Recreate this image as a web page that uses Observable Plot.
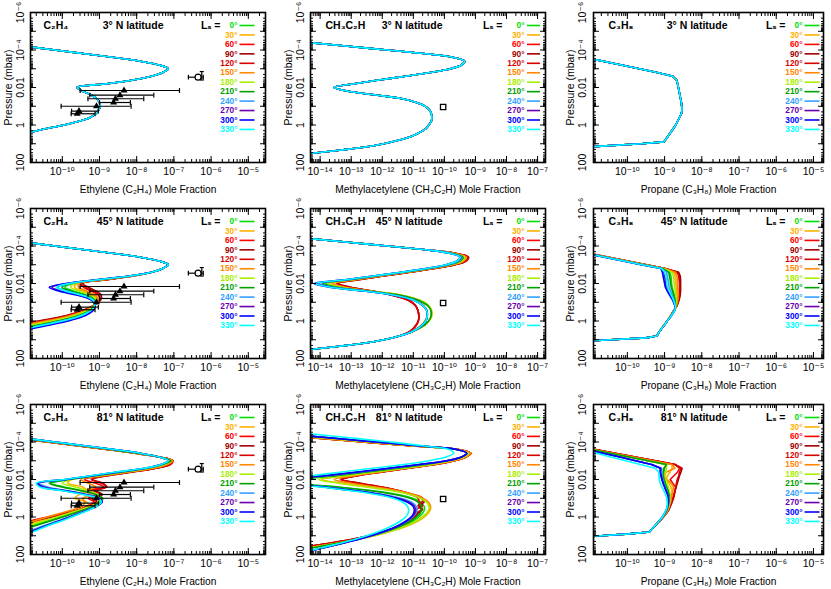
<!DOCTYPE html>
<html><head><meta charset="utf-8">
<script src="https://cdn.jsdelivr.net/npm/d3@7"></script>
<script src="https://cdn.jsdelivr.net/npm/@observablehq/plot@0.6"></script>
<style>
body{margin:0;background:#fff}
#wrap{position:relative;width:831px;height:589px;background:#fff}
.cell{position:absolute}
</style></head>
<body><div id="wrap"></div>
<script>
// ---------- categories ----------
const LS = [0, 30, 60, 90, 120, 150, 180, 210, 240, 270, 300, 330];
const LS_COLORS = ["#00dd00","#ffb000","#ff0000","#a00000","#d80000","#ff8800","#aaee00","#00a000","#33a0ff","#6a00b0","#0000ff","#00ffff"];
const LATITUDES = ["3° N latitude", "45° N latitude", "81° N latitude"];

// ---------- tick labels ----------
const X_TICKS_A = [1e-10, 1e-9, 1e-8, 1e-7, 1e-6, 1e-5];
const X_LABELS_A = ["10⁻¹⁰","10⁻⁹","10⁻⁸","10⁻⁷","10⁻⁶","10⁻⁵"];
const X_TICKS_B = [1e-14, 1e-13, 1e-12, 1e-11, 1e-10, 1e-9, 1e-8, 1e-7];
const X_LABELS_B = ["10⁻¹⁴","10⁻¹³","10⁻¹²","10⁻¹¹","10⁻¹⁰","10⁻⁹","10⁻⁸","10⁻⁷"];
const Y_TICKS = [1e-6, 1e-4, 1e-2, 1, 100];
const Y_LABELS = ["10⁻⁶","10⁻⁴","0.01","1","100"];
const Y_DECADES = [1e-6,1e-5,1e-4,1e-3,1e-2,1e-1,1,10,100];

// ---------- pressure grids (log10 mbar) ----------
const LOGP_C2H4 = [-4.6,-4.4,-4.2,-4.0,-3.8,-3.6,-3.4,-3.2,-3.0,-2.8,-2.6,-2.4,-2.2,-2.0,-1.8,-1.6,-1.4,-1.2,-1.0,-0.8,-0.6,-0.4,-0.2,0.0,0.2,0.4,0.6,0.8,1.0];
const LOGP_CH3C2H = [-4.6,-4.4,-4.2,-4.0,-3.8,-3.6,-3.4,-3.2,-3.0,-2.8,-2.6,-2.4,-2.2,-2.0,-1.8,-1.6,-1.4,-1.2,-1.0,-0.8,-0.6,-0.4,-0.2,0.0,0.2,0.4,0.6,0.8,1.0,1.2,1.4,1.6,1.8];
const LOGP_C3H8 = [-4.0,-3.6,-3.2,-3.0,-2.8,-2.6,-2.4,-2.2,-2.0,-1.8,-1.6,-1.4,-1.2,-1.0,-0.8,-0.6,-0.4,-0.2,0.0,0.2,0.4,0.6,0.8,0.9,1.0,1.2];

// ---------- C2H4 mole fractions (log10) ----------
const C2H4_3N = [-12.6,-11.8,-11.0,-10.2,-9.4,-8.6,-7.9,-7.4,-7.15,-7.3,-7.6,-8.1,-8.8,-9.6,-9.45,-9.22,-9.07,-9.0,-8.98,-9.02,-9.1,-9.25,-9.55,-9.95,-10.45,-10.88,-11.35,-11.9,-12.5];
const C2H4_45N_TOP = [-12.6,-11.8,-11.0,-10.2,-9.4,-8.6,-7.9,-7.4,-7.15,-7.3,-7.6];
const C2H4_45N_LOW = [
  [-8.16,-8.98,-9.72,-9.93,-9.7,-9.37,-9.16,-9.1,-9.14,-9.25,-9.45,-9.74,-10.17,-10.66,-11.16,-11.66,-12.22,-12.78],
  [-8.14,-8.91,-9.61,-9.67,-9.45,-9.2,-9.07,-9.07,-9.16,-9.31,-9.55,-9.89,-10.37,-10.89,-11.39,-11.89,-12.42,-12.96],
  [-8.11,-8.84,-9.5,-9.43,-9.22,-9.04,-8.99,-9.04,-9.17,-9.37,-9.65,-10.03,-10.55,-11.09,-11.59,-12.09,-12.6,-13.12],
  [-8.1,-8.8,-9.45,-9.3,-9.1,-8.96,-8.95,-9.02,-9.18,-9.4,-9.7,-10.1,-10.65,-11.2,-11.7,-12.2,-12.7,-13.2],
  [-8.11,-8.82,-9.49,-9.38,-9.18,-9.02,-8.98,-9.03,-9.18,-9.38,-9.67,-10.05,-10.59,-11.13,-11.63,-12.13,-12.64,-13.14],
  [-8.13,-8.88,-9.56,-9.56,-9.35,-9.13,-9.04,-9.05,-9.17,-9.34,-9.6,-9.95,-10.45,-10.98,-11.48,-11.98,-12.5,-13.03],
  [-8.15,-8.94,-9.65,-9.77,-9.55,-9.27,-9.11,-9.08,-9.15,-9.29,-9.51,-9.83,-10.29,-10.8,-11.3,-11.8,-12.34,-12.89],
  [-8.17,-9.0,-9.76,-10.01,-9.78,-9.43,-9.19,-9.11,-9.14,-9.23,-9.41,-9.69,-10.11,-10.59,-11.09,-11.59,-12.16,-12.72],
  [-8.18,-9.03,-9.8,-10.12,-9.88,-9.5,-9.22,-9.12,-9.13,-9.2,-9.37,-9.63,-10.03,-10.5,-11.0,-11.5,-12.08,-12.65],
  [-8.19,-9.08,-9.87,-10.28,-10.03,-9.6,-9.28,-9.14,-9.12,-9.17,-9.31,-9.54,-9.91,-10.36,-10.86,-11.36,-11.96,-12.55],
  [-8.2,-9.1,-9.9,-10.35,-10.1,-9.65,-9.3,-9.15,-9.12,-9.15,-9.28,-9.5,-9.85,-10.3,-10.8,-11.3,-11.9,-12.5],
  [-8.18,-9.05,-9.82,-10.16,-9.92,-9.53,-9.24,-9.13,-9.13,-9.2,-9.36,-9.61,-9.99,-10.46,-10.96,-11.46,-12.04,-12.63]
];
const C2H4_81N_TOP_RED = [-12.8,-12.0,-11.2,-10.4,-9.6,-8.8,-8.05,-7.4,-7.03];
const C2H4_81N_TOP_YG = [-12.7,-11.9,-11.1,-10.3,-9.5,-8.7,-7.97,-7.4,-7.08];
const C2H4_81N_TOP_BLUE = [-12.6,-11.8,-11.0,-10.2,-9.4,-8.6,-7.9,-7.4,-7.15];
const C2H4_81N_LOW = [
  [-7.28,-7.7,-8.37,-9.05,-9.8,-10.3,-9.95,-9.45,-9.08,-8.92,-8.97,-9.15,-9.42,-9.73,-10.05,-10.38,-10.72,-11.05,-11.4,-11.8],
  [-7.22,-7.6,-8.25,-8.95,-9.75,-9.85,-9.45,-9.35,-9.55,-9.65,-9.35,-9.3,-9.55,-9.9,-10.25,-10.6,-10.95,-11.3,-11.65,-12.0],
  [-7.12,-7.5,-8.15,-8.85,-9.4,-9.1,-8.88,-9.3,-9.05,-9.3,-9.15,-9.3,-9.55,-9.95,-10.4,-10.85,-11.3,-11.75,-12.2,-12.65],
  [-7.1,-7.48,-8.1,-8.78,-9.2,-8.9,-8.82,-9.1,-8.92,-9.1,-9.08,-9.22,-9.48,-9.88,-10.3,-10.75,-11.2,-11.65,-12.1,-12.55],
  [-7.1,-7.48,-8.12,-8.8,-9.22,-8.95,-8.8,-9.15,-8.95,-9.2,-9.1,-9.25,-9.5,-9.9,-10.35,-10.8,-11.25,-11.7,-12.15,-12.6],
  [-7.18,-7.55,-8.2,-8.9,-9.5,-9.3,-9.1,-9.4,-9.2,-9.45,-9.4,-9.45,-9.7,-10.05,-10.4,-10.75,-11.1,-11.45,-11.8,-12.15],
  [-7.25,-7.65,-8.3,-9.0,-9.75,-10.0,-9.65,-9.3,-9.05,-8.95,-9.02,-9.22,-9.5,-9.82,-10.15,-10.48,-10.8,-11.15,-11.5,-11.9],
  [-7.3,-7.72,-8.4,-9.1,-9.85,-10.35,-10.0,-9.5,-9.1,-8.92,-8.95,-9.12,-9.38,-9.68,-9.98,-10.3,-10.62,-10.95,-11.3,-11.7],
  [-7.33,-7.76,-8.47,-9.17,-9.9,-10.62,-10.4,-9.85,-9.33,-9.0,-8.93,-9.07,-9.3,-9.56,-9.83,-10.1,-10.4,-10.68,-10.95,-11.25],
  [-7.35,-7.78,-8.5,-9.2,-9.92,-10.65,-10.5,-9.9,-9.38,-9.02,-8.94,-9.06,-9.28,-9.54,-9.8,-10.07,-10.35,-10.62,-10.88,-11.18],
  [-7.35,-7.78,-8.5,-9.2,-9.9,-10.65,-10.55,-9.95,-9.4,-9.02,-8.93,-9.05,-9.27,-9.52,-9.78,-10.05,-10.33,-10.6,-10.85,-11.15],
  [-7.35,-7.8,-8.55,-9.25,-9.95,-10.7,-10.6,-10.0,-9.45,-9.05,-8.95,-9.05,-9.25,-9.5,-9.75,-10.0,-10.3,-10.55,-10.8,-11.1]
];

// ---------- CH3C2H mole fractions (log10) ----------
const CH3C2H_3N = [-15.6,-14.35,-13.1,-11.85,-10.6,-9.7,-9.35,-9.45,-9.8,-10.45,-11.25,-12.1,-12.9,-13.55,-13.1,-12.2,-11.35,-10.9,-10.62,-10.48,-10.42,-10.4,-10.42,-10.5,-10.6,-10.8,-11.05,-11.45,-11.95,-12.65,-13.66,-14.8,-16.0];
const CH3C2H_45N_TOP = [-15.6,-14.35,-13.1,-11.85,-10.6];
const CH3C2H_45N_TAIL = [-11.95,-12.65,-13.66,-14.8,-16.0];
const CH3C2H_45N_MID = [
  [-9.71,-9.37,-9.47,-9.82,-10.47,-11.27,-12.14,-13.0,-13.84,-13.39,-12.47],
  [-9.67,-9.32,-9.41,-9.76,-10.41,-11.21,-12.07,-12.91,-13.68,-13.25,-12.41],
  [-9.62,-9.25,-9.33,-9.68,-10.33,-11.13,-11.99,-12.8,-13.48,-13.07,-12.33],
  [-9.6,-9.22,-9.3,-9.65,-10.3,-11.1,-11.95,-12.75,-13.4,-13.0,-12.3],
  [-9.61,-9.23,-9.32,-9.67,-10.32,-11.12,-11.97,-12.77,-13.44,-13.04,-12.32],
  [-9.65,-9.29,-9.38,-9.73,-10.38,-11.18,-12.04,-12.86,-13.6,-13.18,-12.38],
  [-9.69,-9.35,-9.44,-9.79,-10.44,-11.24,-12.11,-12.95,-13.76,-13.32,-12.44],
  [-9.73,-9.4,-9.5,-9.85,-10.5,-11.3,-12.18,-13.04,-13.92,-13.46,-12.5],
  [-9.76,-9.44,-9.54,-9.89,-10.54,-11.34,-12.23,-13.11,-14.04,-13.56,-12.54],
  [-9.78,-9.47,-9.57,-9.92,-10.57,-11.37,-12.27,-13.16,-14.12,-13.63,-12.57],
  [-9.8,-9.5,-9.6,-9.95,-10.6,-11.4,-12.3,-13.2,-14.2,-13.7,-12.6],
  [-9.79,-9.49,-9.59,-9.94,-10.59,-11.39,-12.28,-13.18,-14.16,-13.67,-12.59]
];
const CH3C2H_45N_LOBE_RED = [-11.75,-11.3,-11.05,-10.92,-10.86,-10.83,-10.82,-10.84,-10.9,-11.0,-11.15,-11.45];
const CH3C2H_45N_LOBE_ORANGE = [-11.6,-11.1,-10.8,-10.65,-10.57,-10.55,-10.57,-10.63,-10.73,-10.9,-11.1,-11.45];
const CH3C2H_45N_LOBE_YELLOW = [-11.45,-10.95,-10.65,-10.5,-10.42,-10.4,-10.42,-10.5,-10.62,-10.82,-11.07,-11.45];
const CH3C2H_45N_LOBE_GREEN = [-11.5,-11.0,-10.7,-10.52,-10.44,-10.42,-10.44,-10.51,-10.63,-10.83,-11.08,-11.45];
const CH3C2H_45N_LOBE_BLUE = [-11.7,-11.15,-10.85,-10.68,-10.58,-10.55,-10.56,-10.6,-10.7,-10.86,-11.08,-11.45];
const CH3C2H_81N_TOP_RED = [-17.0,-15.55,-14.08,-12.6,-11.1,-9.55,-9.15,-9.3,-9.68];
const CH3C2H_81N_TOP_YG = [-16.6,-15.2,-13.8,-12.4,-11.0,-9.6,-9.22,-9.38,-9.8];
const CH3C2H_81N_TOP_BLUE = [-16.2,-14.9,-13.55,-12.2,-10.85,-9.6,-9.28,-9.45,-9.92];
const CH3C2H_81N_TOP_CYAN = [-15.3,-14.1,-12.9,-11.75,-10.7,-9.85,-9.7,-9.95,-10.5];
const CH3C2H_81N_LOW = [
  [-10.55,-11.45,-12.4,-13.35,-14.35,-14.4,-13.4,-12.3,-11.5,-11.02,-10.78,-10.66,-10.64,-10.7,-10.82,-11.0,-11.23,-11.53,-11.9,-12.33,-12.85,-13.45,-14.15,-14.85],
  [-10.38,-11.27,-12.17,-13.05,-13.95,-13.3,-12.4,-11.6,-11.05,-10.72,-10.53,-10.45,-10.45,-10.52,-10.65,-10.83,-11.08,-11.4,-11.8,-12.25,-12.8,-13.45,-14.2,-14.95],
  [-10.33,-11.18,-12.03,-12.83,-13.35,-12.8,-12.1,-11.5,-11.1,-10.85,-10.8,-10.7,-10.9,-10.88,-11.0,-11.13,-11.37,-11.66,-12.0,-12.45,-13.0,-13.7,-14.5,-15.3],
  [-10.3,-11.15,-12.0,-12.8,-13.3,-12.7,-12.0,-11.45,-11.05,-10.75,-10.65,-10.8,-10.7,-10.85,-10.95,-11.1,-11.35,-11.65,-12.0,-12.45,-13.0,-13.7,-14.5,-15.3],
  [-10.3,-11.15,-12.0,-12.8,-13.28,-12.75,-12.05,-11.45,-11.0,-10.7,-10.72,-10.85,-10.75,-10.9,-10.98,-11.12,-11.36,-11.65,-12.0,-12.45,-13.0,-13.7,-14.5,-15.3],
  [-10.33,-11.2,-12.07,-12.9,-13.55,-13.0,-12.2,-11.5,-11.0,-10.7,-10.52,-10.46,-10.48,-10.57,-10.7,-10.88,-11.12,-11.45,-11.85,-12.3,-12.85,-13.5,-14.25,-15.0],
  [-10.43,-11.33,-12.25,-13.15,-14.05,-13.4,-12.5,-11.7,-11.12,-10.78,-10.58,-10.5,-10.5,-10.57,-10.7,-10.88,-11.12,-11.43,-11.82,-12.27,-12.8,-13.45,-14.2,-14.95],
  [-10.62,-11.52,-12.5,-13.5,-14.5,-14.5,-13.5,-12.4,-11.6,-11.1,-10.85,-10.75,-10.73,-10.78,-10.9,-11.07,-11.3,-11.58,-11.93,-12.35,-12.85,-13.43,-14.1,-14.8],
  [-10.78,-11.72,-12.7,-13.75,-14.8,-14.7,-13.8,-12.75,-11.95,-11.4,-11.07,-10.92,-10.88,-10.92,-11.02,-11.18,-11.4,-11.65,-11.97,-12.35,-12.78,-13.28,-13.8,-14.35],
  [-10.8,-11.78,-12.78,-13.85,-14.95,-14.8,-13.9,-12.85,-12.05,-11.5,-11.15,-10.98,-10.93,-10.95,-11.05,-11.2,-11.4,-11.65,-11.98,-12.35,-12.78,-13.27,-13.78,-14.3],
  [-10.8,-11.8,-12.8,-13.9,-15.0,-14.8,-13.9,-12.9,-12.1,-11.55,-11.2,-11.02,-10.97,-10.99,-11.07,-11.22,-11.42,-11.67,-12.0,-12.38,-12.8,-13.27,-13.77,-14.27],
  [-11.3,-12.3,-13.3,-14.3,-15.3,-15.0,-14.0,-13.0,-12.2,-11.65,-11.35,-11.2,-11.15,-11.17,-11.25,-11.4,-11.6,-11.85,-12.15,-12.5,-12.9,-13.35,-13.85,-14.3]
];

// ---------- C3H8 mole fractions (log10) ----------
const C3H8_3N = [-12.1,-11.13,-10.16,-9.68,-9.2,-8.78,-8.68,-8.65,-8.63,-8.61,-8.59,-8.57,-8.55,-8.54,-8.53,-8.55,-8.6,-8.65,-8.7,-8.77,-8.84,-8.91,-8.98,-9.02,-9.63,-11.3];
const C3H8_45N_TAIL = [-8.93,-9.0,-9.08,-9.15,-9.21,-9.5,-10.45,-12.3];
const C3H8_45N_HEAD = [
  [-12.07,-11.06,-10.06,-9.56,-9.05,-8.86,-8.83,-8.82,-8.81,-8.8,-8.77,-8.74,-8.72,-8.7,-8.7,-8.73,-8.79,-8.85],
  [-12.05,-11.04,-10.03,-9.53,-9.02,-8.75,-8.72,-8.71,-8.7,-8.69,-8.68,-8.67,-8.66,-8.67,-8.69,-8.73,-8.79,-8.86],
  [-12.03,-11.01,-10.0,-9.49,-8.99,-8.64,-8.6,-8.59,-8.59,-8.59,-8.59,-8.59,-8.61,-8.64,-8.67,-8.74,-8.8,-8.86],
  [-12.03,-11.01,-9.99,-9.48,-8.98,-8.62,-8.58,-8.57,-8.57,-8.57,-8.57,-8.58,-8.6,-8.63,-8.67,-8.74,-8.8,-8.86],
  [-12.04,-11.02,-10.0,-9.49,-8.99,-8.66,-8.62,-8.61,-8.6,-8.6,-8.6,-8.6,-8.62,-8.64,-8.67,-8.74,-8.8,-8.86],
  [-12.04,-11.03,-10.02,-9.51,-9.0,-8.71,-8.67,-8.66,-8.66,-8.65,-8.64,-8.64,-8.64,-8.66,-8.68,-8.74,-8.8,-8.86],
  [-12.06,-11.05,-10.04,-9.54,-9.03,-8.8,-8.76,-8.75,-8.74,-8.73,-8.71,-8.7,-8.68,-8.68,-8.69,-8.73,-8.79,-8.86],
  [-12.07,-11.07,-10.07,-9.57,-9.05,-8.89,-8.87,-8.85,-8.84,-8.82,-8.79,-8.76,-8.73,-8.71,-8.7,-8.73,-8.79,-8.85],
  [-12.08,-11.08,-10.09,-9.59,-9.07,-8.95,-8.93,-8.91,-8.89,-8.88,-8.84,-8.8,-8.76,-8.73,-8.71,-8.73,-8.79,-8.85],
  [-12.09,-11.09,-10.11,-9.62,-9.09,-9.02,-9.0,-8.98,-8.97,-8.95,-8.9,-8.85,-8.79,-8.75,-8.72,-8.72,-8.78,-8.85],
  [-12.1,-11.1,-10.12,-9.63,-9.1,-9.06,-9.04,-9.02,-9.0,-8.98,-8.93,-8.87,-8.81,-8.76,-8.72,-8.72,-8.78,-8.85],
  [-12.09,-11.09,-10.1,-9.61,-9.08,-9.0,-8.97,-8.95,-8.94,-8.92,-8.88,-8.83,-8.78,-8.74,-8.71,-8.72,-8.78,-8.85]
];
const C3H8_81N_TOP_RED = [-11.92,-10.86,-9.79,-9.25,-8.72];
const C3H8_81N_TOP_OY = [-11.95,-10.9,-9.85,-9.32,-8.8];
const C3H8_81N_TOP_G = [-11.97,-10.95,-9.95,-9.45,-8.95];
const C3H8_81N_TOP_B = [-11.98,-11.1,-10.2,-9.78,-9.35];
const C3H8_81N_TOP_C = [-12.0,-11.22,-10.44,-10.05,-9.65];
const C3H8_81N_LOW = [
  [-9.0,-9.02,-9.02,-9.0,-8.97,-8.93,-8.9,-8.87,-8.86,-8.87,-8.89,-8.93,-8.98,-9.05,-9.14,-9.23,-9.32,-9.41,-9.95,-10.7,-12.0],
  [-8.8,-8.85,-8.92,-8.95,-8.88,-8.83,-8.8,-8.8,-8.82,-8.84,-8.87,-8.91,-8.97,-9.04,-9.13,-9.22,-9.32,-9.41,-9.95,-10.7,-12.0],
  [-8.6,-8.65,-8.75,-8.85,-8.78,-8.7,-8.72,-8.75,-8.78,-8.81,-8.85,-8.89,-8.96,-9.04,-9.13,-9.22,-9.32,-9.41,-9.95,-10.7,-12.0],
  [-8.53,-8.56,-8.6,-8.63,-8.66,-8.69,-8.72,-8.74,-8.76,-8.8,-8.84,-8.88,-8.95,-9.03,-9.12,-9.22,-9.32,-9.41,-9.95,-10.7,-12.0],
  [-8.56,-8.6,-8.62,-8.66,-8.68,-8.7,-8.72,-8.74,-8.77,-8.8,-8.84,-8.89,-8.95,-9.03,-9.12,-9.22,-9.32,-9.41,-9.95,-10.7,-12.0],
  [-8.72,-8.95,-9.05,-8.95,-8.82,-8.76,-8.78,-8.8,-8.82,-8.84,-8.87,-8.9,-8.96,-9.04,-9.13,-9.22,-9.32,-9.41,-9.95,-10.7,-12.0],
  [-8.95,-8.97,-8.98,-8.96,-8.93,-8.9,-8.87,-8.85,-8.85,-8.86,-8.88,-8.92,-8.97,-9.05,-9.13,-9.23,-9.32,-9.41,-9.95,-10.7,-12.0],
  [-9.02,-9.04,-9.04,-9.02,-8.99,-8.95,-8.91,-8.88,-8.87,-8.88,-8.9,-8.93,-8.98,-9.05,-9.14,-9.23,-9.32,-9.41,-9.95,-10.7,-12.0],
  [-9.08,-9.08,-9.07,-9.05,-9.02,-8.98,-8.94,-8.91,-8.89,-8.89,-8.91,-8.94,-8.99,-9.06,-9.14,-9.23,-9.32,-9.41,-9.95,-10.7,-12.0],
  [-9.1,-9.11,-9.09,-9.07,-9.04,-9.0,-8.96,-8.92,-8.9,-8.9,-8.92,-8.94,-8.99,-9.06,-9.14,-9.23,-9.32,-9.41,-9.95,-10.7,-12.0],
  [-9.12,-9.12,-9.1,-9.07,-9.04,-9.0,-8.96,-8.92,-8.9,-8.9,-8.92,-8.95,-9.0,-9.06,-9.14,-9.23,-9.32,-9.41,-9.95,-10.7,-12.0],
  [-9.25,-9.16,-9.15,-9.14,-9.12,-9.07,-9.02,-8.97,-8.94,-8.93,-8.93,-8.95,-9.0,-9.06,-9.14,-9.23,-9.32,-9.41,-9.95,-10.7,-12.0]
];

// ---------- observations (log10) ----------
const OBS_C2H4_X = [-8.34,-8.45,-8.57,-8.62,-9.08,-9.55,-9.6];
const OBS_C2H4_P = [-1.84,-1.59,-1.4,-1.2,-1.0,-0.74,-0.6];
const OBS_C2H4_LO = [-9.52,-9.26,-9.31,-9.0,-10.03,-9.75,-9.76];
const OBS_C2H4_HI = [-6.85,-7.54,-7.81,-8.17,-8.15,-9.03,-9.12];
const OBS_C2H4_CIRCLE = {x: -6.35, p: -2.55, lo: -6.61, hi: -6.21};
const OBS_C2H4_VBAR = {x: -6.25, p1: -2.85, p2: -2.4};
const OBS_CH3C2H_SQUARE = {x: -10.04, p: -0.96};

// ---------- assemble series ----------
const same = (profile) => LS.map(() => profile);
const C2H4_45N = C2H4_45N_LOW.map(low => [...C2H4_45N_TOP, ...low]);
const C2H4_81N_TOPS = [C2H4_81N_TOP_YG, C2H4_81N_TOP_YG, C2H4_81N_TOP_RED, C2H4_81N_TOP_RED, C2H4_81N_TOP_RED, C2H4_81N_TOP_RED, C2H4_81N_TOP_YG, C2H4_81N_TOP_YG, C2H4_81N_TOP_BLUE, C2H4_81N_TOP_BLUE, C2H4_81N_TOP_BLUE, C2H4_81N_TOP_BLUE];
const C2H4_81N = C2H4_81N_LOW.map((low, i) => [...C2H4_81N_TOPS[i], ...low]);
const CH3C2H_45N_LOBES = [CH3C2H_45N_LOBE_GREEN, CH3C2H_45N_LOBE_YELLOW, CH3C2H_45N_LOBE_RED, CH3C2H_45N_LOBE_RED, CH3C2H_45N_LOBE_RED, CH3C2H_45N_LOBE_ORANGE, CH3C2H_45N_LOBE_YELLOW, CH3C2H_45N_LOBE_GREEN, CH3C2H_45N_LOBE_BLUE, CH3C2H_45N_LOBE_BLUE, CH3C2H_45N_LOBE_BLUE, CH3C2H_45N_LOBE_BLUE];
const CH3C2H_45N = CH3C2H_45N_MID.map((mid, i) => [...CH3C2H_45N_TOP, ...mid, ...CH3C2H_45N_LOBES[i], ...CH3C2H_45N_TAIL]);
const CH3C2H_81N_TOPS = [CH3C2H_81N_TOP_YG, CH3C2H_81N_TOP_RED, CH3C2H_81N_TOP_RED, CH3C2H_81N_TOP_RED, CH3C2H_81N_TOP_RED, CH3C2H_81N_TOP_RED, CH3C2H_81N_TOP_YG, CH3C2H_81N_TOP_BLUE, CH3C2H_81N_TOP_BLUE, CH3C2H_81N_TOP_BLUE, CH3C2H_81N_TOP_BLUE, CH3C2H_81N_TOP_CYAN];
const CH3C2H_81N = CH3C2H_81N_LOW.map((low, i) => [...CH3C2H_81N_TOPS[i], ...low]);
const C3H8_45N = C3H8_45N_HEAD.map(h => [...h, ...C3H8_45N_TAIL]);
const C3H8_81N_TOPS = [C3H8_81N_TOP_G, C3H8_81N_TOP_OY, C3H8_81N_TOP_RED, C3H8_81N_TOP_RED, C3H8_81N_TOP_RED, C3H8_81N_TOP_OY, C3H8_81N_TOP_G, C3H8_81N_TOP_G, C3H8_81N_TOP_B, C3H8_81N_TOP_B, C3H8_81N_TOP_B, C3H8_81N_TOP_C];
const C3H8_81N = C3H8_81N_LOW.map((low, i) => [...C3H8_81N_TOPS[i], ...low]);

// ---------- layout ----------
const COLS = [
  {left: 0, mL: 30, mR: 12, xDomain: [1.4e-11, 2.9e-5], xTicks: X_TICKS_A, xLabels: X_LABELS_A,
   species: "C₂H₄", xTitle: "Ethylene (C₂H₄) Mole Fraction", spDx: 13, latDx: 133,
   legHeadDx: -45, legLabelDx: -28, legLineDx: -18.5, legLineR: 7.5, yLabDx: -10, yTitleDx: -22,
   logP: LOGP_C2H4, curve: "catmull-rom", obs: "c2h4"},
  {left: 277, mL: 33, mR: 9, xDomain: [4.9e-15, 1.8e-7], xTicks: X_TICKS_B, xLabels: X_LABELS_B,
   species: "CH₃C₂H", xTitle: "Methylacetylene (CH₃C₂H) Mole Fraction", spDx: 15, latDx: 132,
   legHeadDx: -43, legLabelDx: -21, legLineDx: -12, legLineR: 6.5, yLabDx: -10, yTitleDx: -22,
   logP: LOGP_CH3C2H, curve: "catmull-rom", obs: "ch3c2h"},
  {left: 554, mL: 39, mR: 8, xDomain: [1.23e-11, 1.86e-5], xTicks: X_TICKS_A, xLabels: X_LABELS_A,
   species: "C₃H₈", xTitle: "Propane (C₃H₈) Mole Fraction", spDx: 15, latDx: 134,
   legHeadDx: -38, legLabelDx: -21, legLineDx: -11.5, legLineR: 7.5, yLabDx: -11, yTitleDx: -23,
   logP: LOGP_C3H8, curve: "linear", obs: null}
];
const SERIES = [
  [same(C2H4_3N), same(CH3C2H_3N), same(C3H8_3N)],
  [C2H4_45N, CH3C2H_45N, C3H8_45N],
  [C2H4_81N, CH3C2H_81N, C3H8_81N]
];

const HBAR = {draw(ctx, size) { const r = Math.sqrt(size / Math.PI); ctx.moveTo(-r, 0); ctx.lineTo(r, 0); }};
const VBAR = {draw(ctx, size) { const r = Math.sqrt(size / Math.PI); ctx.moveTo(0, -r); ctx.lineTo(0, r); }};
const FONT = "'Liberation Sans', Arial, 'DejaVu Sans', sans-serif";

function panel(row, col) {
  const c = COLS[col];
  const data = [];
  SERIES[row][col].forEach((vals, i) => vals.forEach((v, j) => data.push({ls: LS[i], x: 10 ** v, y: 10 ** c.logP[j]})));
  const marks = [];
  marks.push(Plot.line(data, {x: "x", y: "y", z: "ls", stroke: "ls", curve: c.curve, strokeWidth: 1.6, clip: true}));

  if (c.obs === "c2h4") {
    const obs = OBS_C2H4_X.map((x, i) => ({x: 10 ** x, p: 10 ** OBS_C2H4_P[i], lo: 10 ** OBS_C2H4_LO[i], hi: 10 ** OBS_C2H4_HI[i]}));
    const circ = [{x: 10 ** OBS_C2H4_CIRCLE.x, p: 10 ** OBS_C2H4_CIRCLE.p, lo: 10 ** OBS_C2H4_CIRCLE.lo, hi: 10 ** OBS_C2H4_CIRCLE.hi}];
    const vb = [{x: 10 ** OBS_C2H4_VBAR.x, p1: 10 ** OBS_C2H4_VBAR.p1, p2: 10 ** OBS_C2H4_VBAR.p2}];
    const all = obs.concat(circ);
    marks.push(Plot.ruleY(all, {y: "p", x1: "lo", x2: "hi", stroke: "black", strokeWidth: 1.2}));
    marks.push(Plot.dot(all, {x: "lo", y: "p", symbol: VBAR, r: 2.4, stroke: "black", fill: "none", strokeWidth: 1.2}));
    marks.push(Plot.dot(all, {x: "hi", y: "p", symbol: VBAR, r: 2.4, stroke: "black", fill: "none", strokeWidth: 1.2}));
    marks.push(Plot.dot(obs, {x: "x", y: "p", symbol: "triangle", r: 2.6, fill: "black", stroke: "none"}));
    marks.push(Plot.dot(circ, {x: "x", y: "p", r: 3, fill: "white", stroke: "black", strokeWidth: 1.2}));
    marks.push(Plot.ruleX(vb, {x: "x", y1: "p1", y2: "p2", stroke: "black", strokeWidth: 1.2}));
    marks.push(Plot.dot(vb, {x: "x", y: "p1", symbol: HBAR, r: 2, stroke: "black", fill: "none", strokeWidth: 1.2}));
    marks.push(Plot.dot(vb, {x: "x", y: "p2", symbol: HBAR, r: 2, stroke: "black", fill: "none", strokeWidth: 1.2}));
  } else if (c.obs === "ch3c2h") {
    marks.push(Plot.dot([{x: 10 ** OBS_CH3C2H_SQUARE.x, p: 10 ** OBS_CH3C2H_SQUARE.p}], {x: "x", y: "p", symbol: "square", r: 3, stroke: "black", fill: "white", strokeWidth: 1.3}));
  }

  // frame & ticks (inward on all four sides)
  marks.push(Plot.frame({stroke: "black", strokeWidth: 1.6}));
  for (const anchor of ["bottom", "top"]) {
    marks.push(Plot.axisX(c.xTicks, {anchor, tickSize: -6, tickFormat: () => "", label: null}));
    marks.push(Plot.axisX({anchor, ticks: 80, tickSize: -3, tickFormat: () => "", label: null}));
  }
  for (const anchor of ["left", "right"]) {
    marks.push(Plot.axisY(Y_DECADES, {anchor, tickSize: -6, tickFormat: () => "", label: null}));
    marks.push(Plot.axisY({anchor, ticks: 80, tickSize: -3, tickFormat: () => "", label: null}));
  }
  marks.push(Plot.axisX(c.xTicks, {anchor: "bottom", tickSize: 0, tickPadding: 5, fontSize: 10.5, label: null,
    tickFormat: d => c.xLabels[c.xTicks.indexOf(d)]}));
  marks.push(Plot.text(Y_TICKS, {y: d => d, text: (d, i) => Y_LABELS[i], frameAnchor: "left", dx: c.yLabDx, rotate: -90,
    textAnchor: "middle", lineAnchor: "middle", fontSize: 10.5}));

  // titles
  marks.push(Plot.text(["Pressure (mbar)"], {text: d => d, frameAnchor: "left", dx: c.yTitleDx, rotate: -90, textAnchor: "middle", lineAnchor: "middle", fontSize: 10.5}));
  marks.push(Plot.text([c.xTitle], {text: d => d, frameAnchor: "bottom", dy: 27, textAnchor: "middle", lineAnchor: "middle", fontSize: 10.2}));
  marks.push(Plot.text([c.species], {text: d => d, frameAnchor: "top-left", dx: c.spDx, dy: 13, textAnchor: "start", lineAnchor: "middle", fontSize: 10.5, fontWeight: "bold"}));
  marks.push(Plot.text([LATITUDES[row]], {text: d => d, frameAnchor: "top-left", dx: c.latDx, dy: 13, textAnchor: "end", lineAnchor: "middle", fontSize: 10.5, fontWeight: "bold"}));

  // legend
  marks.push(Plot.text(["Lₛ ="], {text: d => d, frameAnchor: "top-right", dx: c.legHeadDx, dy: 13, textAnchor: "end", lineAnchor: "middle", fontSize: 10.5, fontWeight: "bold"}));
  LS.forEach((ls, i) => {
    marks.push(Plot.text([ls + "°"], {text: d => d, frameAnchor: "top-right", dx: c.legLabelDx, dy: 13 + 9.45 * i,
      textAnchor: "end", lineAnchor: "middle", fontSize: 8.3, fontWeight: "bold", fill: LS_COLORS[i]}));
    marks.push(Plot.dot([ls], {frameAnchor: "top-right", dx: c.legLineDx, dy: 13 + 9.45 * i, symbol: HBAR, r: c.legLineR,
      stroke: LS_COLORS[i], strokeWidth: 1.6, fill: "none"}));
  });

  return Plot.plot({
    width: 277, height: 196,
    marginLeft: c.mL, marginRight: c.mR, marginTop: 12, marginBottom: 34,
    x: {type: "log", domain: c.xDomain},
    y: {type: "log", domain: [1e-6, 100], reverse: true},
    color: {type: "ordinal", domain: LS, range: LS_COLORS},
    style: {fontFamily: FONT, fontSize: "10.5px", color: "black", background: "transparent", overflow: "visible"},
    marks
  });
}

const wrap = document.getElementById("wrap");
for (let row = 0; row < 3; row++) {
  for (let col = 0; col < 3; col++) {
    const div = document.createElement("div");
    div.className = "cell";
    div.style.left = COLS[col].left + "px";
    div.style.top = (row * 196) + "px";
    div.appendChild(panel(row, col));
    wrap.appendChild(div);
  }
}
</script>
</body></html>
